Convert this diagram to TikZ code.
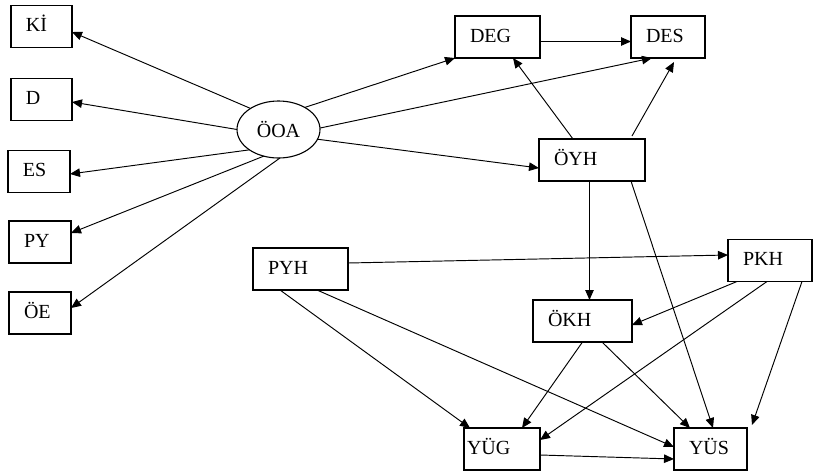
\documentclass[tikz,border=0pt]{standalone}
\usepackage{fontspec}
\setmainfont{Liberation Serif}
\usetikzlibrary{arrows.meta,shapes.geometric}

\begin{document}
\begin{tikzpicture}[x=1pt,y=-1pt,>={Triangle[length=10pt,width=8.5pt]},
    font=\fontsize{20}{24}\selectfont,
    kutu/.style={draw,line width=1.1pt,outer sep=0pt,minimum height=42pt,
        text height=14pt,text depth=4pt,inner xsep=15pt,align=left},
    ok/.style={->,line width=0.95pt}]
    \useasboundingbox (0,0) rectangle (815,472);
    % sol kutular
    \node[kutu,text width=31pt] (ki) at (41.5,26.5) {Kİ};
    \node[kutu,text width=31pt] (d) at (41.5,99.5) {D};
    \node[kutu,text width=32pt] (es) at (39,171.5) {ES};
    \node[kutu,text width=32pt] (py) at (40,242) {PY};
    \node[kutu,text width=32pt] (oe) at (40,313) {ÖE};
    \node[draw,ellipse,line width=1.1pt,outer sep=0pt,inner sep=0pt,
        minimum width=83pt,minimum height=57pt] (ooa) at (278.5,129.5) {ÖOA};
    % sag kutular
    \node[kutu,text width=55pt] (deg) at (497.5,37) {DEG};
    \node[kutu,text width=44pt] (des) at (668,37) {DES};
    \node[kutu,text width=76pt] (oyh) at (592,160) {ÖYH};
    \node[kutu,text width=65pt] (pyh) at (300.5,269) {PYH};
    \node[kutu,text width=54pt] (pkh) at (770,260.5) {PKH};
    \node[kutu,text width=69pt] (okh) at (582.5,321) {ÖKH};
    \node[kutu,text width=70pt,inner xsep=3pt] (yug) at (502,449) {YÜG};
    \node[kutu,text width=43pt] (yus) at (710.5,449) {YÜS};
    % ÖOA oklari
    \draw[ok] (ooa.143) -- ([yshift=-5.5pt]ki.east);
    \draw[ok] (ooa.180) -- ([yshift=-2.5pt]d.east);
    \draw[ok] (ooa.215) -- ([yshift=-2.5pt]es.east);
    \draw[ok] (ooa.241) -- ([yshift=9pt]py.east);
    \draw[ok] (ooa.273) -- ([yshift=5pt]oe.east);
    \draw[ok] (ooa.40) -- (deg.south west);
    \draw[ok] (ooa.2) -- ([xshift=21pt]des.south west);
    \draw[ok] (ooa.-14) -- ([yshift=-8pt]oyh.west);
    % ust kisim
    \draw[ok] ([yshift=-4.5pt]deg.east) -- ([yshift=-4.5pt]des.west);
    \draw[ok] ([xshift=34pt]oyh.north west) -- ([xshift=58pt]deg.south west);
    \draw[ok] ([xshift=-13pt,yshift=3pt]oyh.north east) -- ([xshift=6pt,yshift=-4pt]des.south);
    \draw[ok] ([xshift=-2.5pt]oyh.south) -- ([xshift=7pt]okh.north);
    \draw[ok] ([xshift=-14pt]oyh.south east) -- ([xshift=2.5pt]yus.north);
    % alt kisim
    \draw[ok] ([yshift=6pt]pyh.east) -- ([yshift=5.5pt]pkh.west);
    \draw[ok] ([xshift=27pt]pyh.south west) -- ([xshift=6pt]yug.north west);
    \draw[ok] ([xshift=64pt]pyh.south west) -- ([yshift=2pt]yus.west);
    \draw[ok] ([xshift=9pt]pkh.south west) -- ([yshift=-4pt]okh.east);
    \draw[ok] ([xshift=-3pt]pkh.south) -- ([yshift=9pt]yug.east);
    \draw[ok] ([xshift=-10pt]pkh.south east) -- ([xshift=5pt,yshift=3pt]yus.north east);
    \draw[ok] (okh.south) -- ([xshift=20pt]yug.north);
    \draw[ok] ([xshift=19.5pt]okh.south) -- ([xshift=-20.5pt]yus.north);
    \draw[ok] ([yshift=-6pt]yug.east) -- ([yshift=-10pt]yus.west);
\end{tikzpicture}
\end{document}
